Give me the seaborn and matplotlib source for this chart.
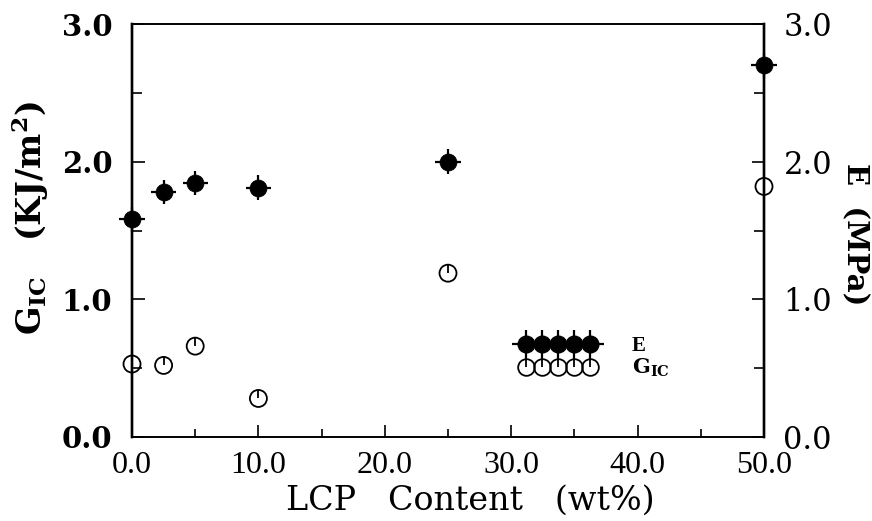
import numpy as np
import pandas as pd
import matplotlib
matplotlib.use("Agg")
import matplotlib.pyplot as plt
from matplotlib.lines import Line2D
from matplotlib.legend_handler import HandlerTuple
from matplotlib.ticker import MultipleLocator, FormatStrFormatter
import seaborn as sns

# ---- data ----
lcp = [0.0, 2.5, 5.0, 10.0, 25.0, 50.0]
E_mpa = [1.58, 1.78, 1.845, 1.81, 2.00, 2.70]
G_ic = [0.53, 0.52, 0.66, 0.28, 1.19, 1.82]
lcp_err = [1.0, 1.0, 1.0, 1.0, 1.0, 1.0]
E_err = [0.09, 0.09, 0.09, 0.09, 0.09, 0.09]
G_err_up = [0.06, 0.06, 0.06, 0.06, 0.06, 0.06]

x_ticks = [0, 10, 20, 30, 40, 50]
y_ticks = [0.0, 1.0, 2.0, 3.0]

df = pd.DataFrame({"lcp": lcp, "E": E_mpa, "G": G_ic})

sns.set_theme(style="white")
plt.rcParams["font.family"] = ["DejaVu Serif"]
plt.rcParams["mathtext.fontset"] = "dejavuserif"
for k in ("text.color", "axes.labelcolor", "xtick.color", "ytick.color"):
    plt.rcParams[k] = "black"

fig = plt.figure(figsize=(8.72, 5.21), dpi=100)
ax = fig.add_axes([132 / 872, 84 / 521, 632 / 872, 413 / 521])
ax2 = ax.twinx()

ax.set_xlim(0, 50)
ax.set_ylim(0, 3)
ax2.set_ylim(0, 3)

# error bars
ax.errorbar(df["lcp"], df["E"], xerr=lcp_err, yerr=E_err, fmt="none",
            ecolor="black", elinewidth=1.6, capsize=0, zorder=3, clip_on=False)
ax.errorbar(df["lcp"], df["G"], yerr=[np.zeros(len(G_err_up)), G_err_up], fmt="none",
            ecolor="black", elinewidth=1.3, capsize=0, zorder=3, clip_on=False)

# markers via seaborn
sns.scatterplot(data=df, x="lcp", y="E", ax=ax, marker="o", s=150,
                color="black", edgecolor="black", linewidth=0.5, zorder=4, clip_on=False)
sns.scatterplot(data=df, x="lcp", y="G", ax=ax, marker="o", s=150,
                facecolor="none", edgecolor="black", linewidth=1.3, zorder=4, clip_on=False)

# spines
for a in (ax, ax2):
    for name, s in a.spines.items():
        s.set_color("black")
        s.set_linewidth(1.7 if name in ("left", "right") else 1.2)

# ticks
ax.set_xticks(x_ticks)
ax.xaxis.set_minor_locator(MultipleLocator(5))
ax.xaxis.set_major_formatter(FormatStrFormatter("%.1f"))
ax.set_yticks(y_ticks)
ax.yaxis.set_minor_locator(MultipleLocator(0.5))
ax.yaxis.set_major_formatter(FormatStrFormatter("%.1f"))
ax2.set_yticks(y_ticks)
ax2.yaxis.set_minor_locator(MultipleLocator(0.5))
ax2.yaxis.set_major_formatter(FormatStrFormatter("%.1f"))

ax.tick_params(axis="x", which="major", direction="in", length=9, width=1.2,
               bottom=True, top=False, pad=10)
ax.tick_params(axis="x", which="minor", direction="in", length=6, width=1.2,
               bottom=True, top=False)
ax.tick_params(axis="y", which="major", direction="in", length=9, width=1.2,
               left=True, right=False, pad=14)
ax.tick_params(axis="y", which="minor", direction="in", length=7, width=1.2,
               left=True, right=False)
ax2.tick_params(axis="y", which="major", direction="in", length=9, width=1.2,
                right=True, left=False, pad=14)
ax2.tick_params(axis="y", which="minor", direction="in", length=7, width=1.2,
                right=True, left=False)

for lab in ax.get_xticklabels():
    lab.set_fontfamily("Liberation Serif")
    lab.set_fontsize(23)
for lab in ax.get_yticklabels():
    lab.set_fontfamily("DejaVu Serif")
    lab.set_fontsize(21)
    lab.set_fontweight("bold")
    lab.set_verticalalignment("center_baseline")
for lab in ax2.get_yticklabels():
    lab.set_fontfamily("DejaVu Serif")
    lab.set_fontsize(22)
    lab.set_verticalalignment("center_baseline")

ax.set_xlabel("LCP   Content   (wt%)", fontfamily="DejaVu Serif", fontsize=24)
ax.xaxis.set_label_coords(0.535, -0.115)
ax.set_ylabel(r"$\mathregular{G_{IC}}$   (KJ/m$\mathregular{^2}$)", fontsize=24,
              fontweight="bold")
ax.yaxis.set_label_coords(-0.128, 0.53)
ax2.set_ylabel("E  (MPa)", fontsize=21, fontweight="bold", rotation=-90, va="center")
ax2.yaxis.set_label_coords(1.145, 0.49)

# legend
h_E = (Line2D([], [], marker="+", markersize=20, markeredgewidth=1.6, color="black", linestyle="none"),
       Line2D([], [], marker="o", markersize=12, color="black", linestyle="none"))
h_G = (Line2D([], [], marker=2, markersize=7, markeredgewidth=1.3, color="black", linestyle="none"),
       Line2D([], [], marker="o", markersize=12, markerfacecolor="none",
              markeredgecolor="black", markeredgewidth=1.3, linestyle="none"))
leg = ax.legend([h_E, h_G], ["E", r"$\mathbf{G_{IC}}$"], numpoints=5,
                handler_map={tuple: HandlerTuple(ndivide=1, pad=0)},
                loc="center left", bbox_to_anchor=(0.597, 0.192), frameon=False,
                borderpad=0, handlelength=3.68, handletextpad=1.7, labelspacing=0.05,
                prop={"family": "Liberation Serif", "weight": "bold", "size": 15})

fig.savefig("out.png", dpi=100)
